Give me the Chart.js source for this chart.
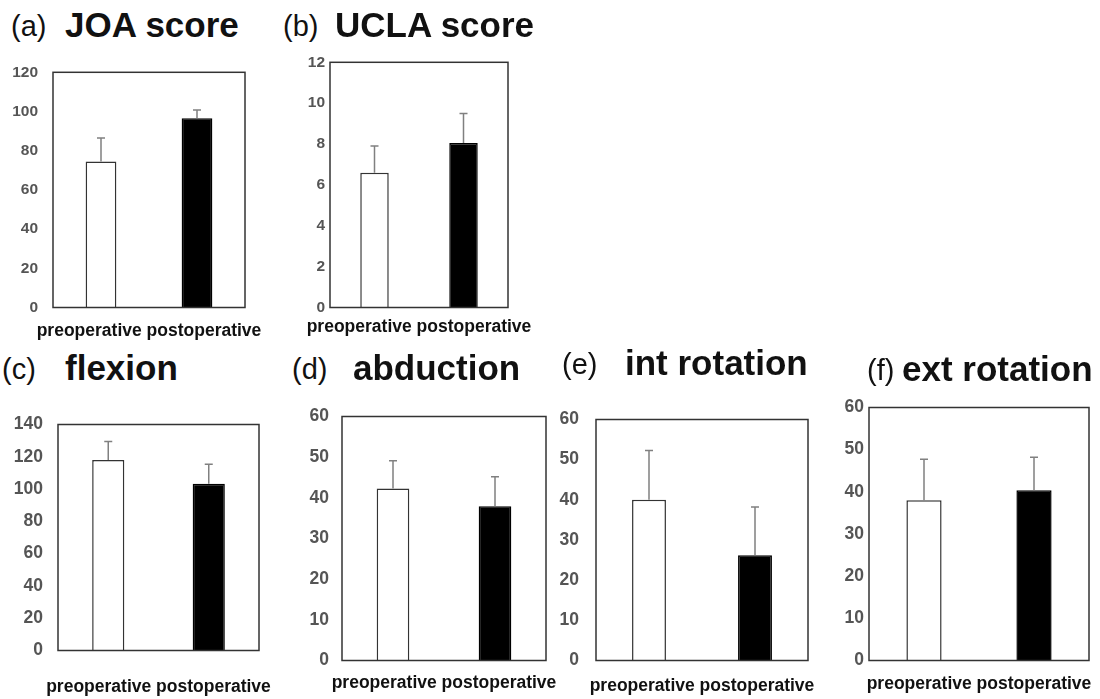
<!DOCTYPE html>
<html>
<head>
<meta charset="utf-8">
<script src="https://cdn.jsdelivr.net/npm/chart.js@4.4.0/dist/chart.umd.min.js"></script>
<style>
  body { margin: 0; background: #fff; }
  #wrap { position: relative; width: 1100px; height: 699px; overflow: hidden; font-family: "Liberation Sans", Arial, sans-serif; }
  canvas { position: absolute; }
  .lbl { position: absolute; font-size: 29px; line-height: 1; color: #111; white-space: nowrap; }
  .ttl { position: absolute; font-size: 35px; font-weight: bold; line-height: 1; color: #111; white-space: nowrap; }
</style>
</head>
<body>
<div id="wrap"></div>
<script>
  // data (mean and upper SD)
  const categories = ['preoperative', 'postoperative'];
  const panelLetters = ['(a)', '(b)', '(c)', '(d)', '(e)', '(f)'];
  const panelNames = ['JOA score', 'UCLA score', 'flexion', 'abduction', 'int rotation', 'ext rotation'];
  const preMean = [74.5, 6.6, 118, 42.3, 40, 38];
  const preSD = [12, 1.3, 11.5, 6.8, 12.3, 9.7];
  const postMean = [96.5, 8.05, 103.3, 37.9, 26.2, 40.4];
  const postSD = [4.3, 1.45, 12, 7.3, 12, 7.8];
  const axisMax = [120, 12, 140, 60, 60, 60];
  const axisStep = [20, 2, 20, 10, 10, 10];

  // layout of each panel: plot box edges, tick padding/size, label offset, title placement
  const layout = [
    { l: 53,  r: 245,  t: 62,  b: 308, tp: 15, fs: 15.5, lab: 24, lx: 11,  tx: 65,  base: 37 },
    { l: 330, r: 508,  t: 62,  b: 308, tp: 5,  fs: 15.5, lab: 20, lx: 283, tx: 335, base: 37 },
    { l: 58,  r: 259,  t: 413, b: 651, tp: 15, fs: 17.5, lab: 37, lx: 2,   tx: 65,  base: 380 },
    { l: 342, r: 546,  t: 407, b: 661, tp: 13, fs: 17.5, lab: 23, lx: 292, tx: 353, base: 380 },
    { l: 596, r: 808,  t: 406, b: 661, tp: 17, fs: 17.5, lab: 26, lx: 562, tx: 625, base: 375 },
    { l: 869, r: 1089, t: 406, b: 661, tp: 5,  fs: 17.5, lab: 24, lx: 867, tx: 902, base: 381 }
  ];

  const FONT = '"Liberation Sans", Arial, sans-serif';

  // draws the full rectangle around the plot area
  const frame = {
    id: 'frame',
    afterDraw(chart) {
      const { ctx, chartArea: a } = chart;
      ctx.save();
      ctx.strokeStyle = '#333333';
      ctx.lineWidth = 1.5;
      ctx.strokeRect(a.left, a.top, a.right - a.left, a.bottom - a.top);
      ctx.restore();
    }
  };

  // upper-only error bars with a small cap
  const errorBars = {
    id: 'errorBars',
    afterDatasetsDraw(chart, args, opts) {
      const { ctx } = chart;
      const y = chart.scales.y;
      const meta = chart.getDatasetMeta(0);
      ctx.save();
      ctx.strokeStyle = '#808080';
      ctx.lineWidth = 1.5;
      meta.data.forEach((bar, i) => {
        const top = y.getPixelForValue(opts.mean[i] + opts.sd[i]);
        ctx.beginPath();
        ctx.moveTo(bar.x, bar.y);
        ctx.lineTo(bar.x, top);
        ctx.moveTo(bar.x - 4, top);
        ctx.lineTo(bar.x + 4, top);
        ctx.stroke();
      });
      ctx.restore();
    }
  };

  const wrap = document.getElementById('wrap');

  layout.forEach((p, i) => {
    const side = 60, padT = 14;
    const titleH = 21;               // 17.5px * 1.2 line height
    const xH = p.lab - titleH / 2;   // space between box and label line
    const left = p.l - side, top = p.t - padT;
    const W = p.r + side - left, H = p.b + xH + titleH - top;

    const cv = document.createElement('canvas');
    cv.width = W; cv.height = H;
    cv.style.left = left + 'px';
    cv.style.top = top + 'px';
    wrap.appendChild(cv);

    new Chart(cv, {
      type: 'bar',
      data: {
        labels: categories,
        datasets: [{
          data: [preMean[i], postMean[i]],
          backgroundColor: ['#ffffff', '#000000'],
          borderColor: ['#333333', '#000000'],
          borderWidth: 1.5,
          barPercentage: 0.32,
          categoryPercentage: 1
        }]
      },
      options: {
        responsive: false,
        animation: false,
        layout: { padding: { top: padT, right: 0, left: 0, bottom: 0 } },
        plugins: {
          legend: { display: false },
          tooltip: { enabled: false },
          title: {
            display: true,
            position: 'bottom',
            text: categories.join(' '),
            color: '#111',
            font: { family: FONT, size: 17.5, weight: 'bold', lineHeight: 1.2 },
            padding: 0
          },
          errorBars: { mean: [preMean[i], postMean[i]], sd: [preSD[i], postSD[i]] }
        },
        scales: {
          x: {
            grid: { display: false, drawTicks: false },
            border: { display: false },
            ticks: { display: false },
            afterFit(axis) { axis.height = xH; }
          },
          y: {
            min: 0,
            max: axisMax[i],
            grid: { display: false, drawTicks: false },
            border: { display: false },
            ticks: {
              stepSize: axisStep[i],
              padding: p.tp,
              color: '#555555',
              font: { family: FONT, size: p.fs, weight: 'bold' }
            },
            afterFit(axis) { axis.width = side; }
          },
          // empty right-hand axis so the label line stays centred under the box
          yRight: {
            position: 'right',
            grid: { display: false, drawTicks: false },
            border: { display: false },
            ticks: { display: false },
            afterFit(axis) { axis.width = side; }
          }
        }
      },
      plugins: [frame, errorBars]
    });

    const a = document.createElement('span');
    a.className = 'lbl';
    a.textContent = panelLetters[i];
    a.style.left = p.lx + 'px';
    a.style.top = (p.base - 0.8465 * 29) + 'px';
    wrap.appendChild(a);

    const t = document.createElement('span');
    t.className = 'ttl';
    t.textContent = panelNames[i];
    t.style.left = p.tx + 'px';
    t.style.top = (p.base - 0.8465 * 35) + 'px';
    wrap.appendChild(t);
  });
</script>
</body>
</html>
